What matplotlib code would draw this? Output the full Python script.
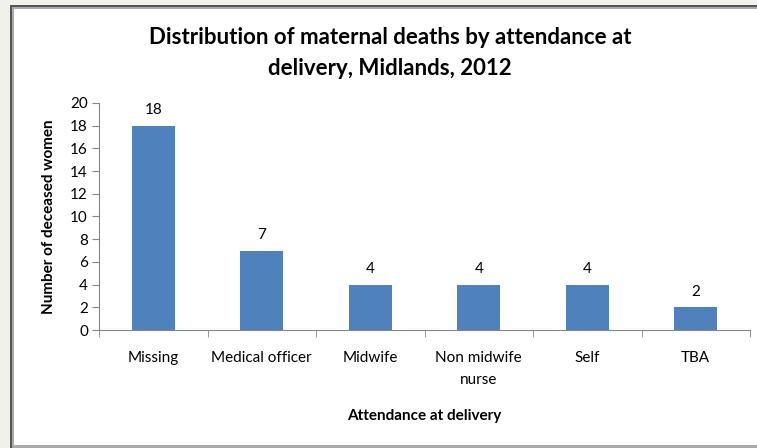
import matplotlib.pyplot as plt
from matplotlib.patches import Rectangle

# dados do gráfico
categorias = ['Missing', 'Medical officer', 'Midwife', 'Non midwife\nnurse', 'Self', 'TBA']
mortes = [18, 7, 4, 4, 4, 2]
yticks = list(range(0, 21, 2))

plt.rcParams['font.family'] = ['Lato', 'DejaVu Sans']

W, H = 757, 448
fig = plt.figure(figsize=(W / 100, H / 100), dpi=100)
fig.patch.set_facecolor('#f1f1ec')

# moldura branca do gráfico (estilo Excel)
fig.patches.append(Rectangle((10 / W, 0), 1, 1 - 5 / H, transform=fig.transFigure,
                             facecolor='#555555', edgecolor='none', zorder=-10))
fig.patches.append(Rectangle((12 / W, 0), 1, 1 - 7 / H, transform=fig.transFigure,
                             facecolor='#aaaaaa', edgecolor='none', zorder=-9))
fig.patches.append(Rectangle((14 / W, 3 / H), 1, 1 - 12 / H, transform=fig.transFigure,
                             facecolor='white', edgecolor='none', zorder=-8))

ax = fig.add_axes([99 / W, 1 - 330 / H, (750 - 99) / W, (330 - 103) / H])
ax.set_facecolor('none')

x = range(len(categorias))
barras = ax.bar(x, mortes, width=0.4, color='#4F81BD', zorder=2)
for xi, v in zip(x, mortes):
    ax.annotate(str(v), (xi, v), xytext=(0, 6), textcoords='offset points',
                ha='center', va='bottom', fontsize=11)

ax.set_xlim(-0.5, len(categorias) - 0.5)
ax.set_ylim(0, 20)
ax.set_yticks(yticks)
ax.set_xticks(list(x))
ax.set_xticklabels(categorias, fontsize=11, linespacing=1.75)
ax.set_xticks([i + 0.5 for i in range(-1, len(categorias))], minor=True)
ax.tick_params(axis='x', which='major', length=0, pad=15)
ax.tick_params(axis='x', which='minor', length=5, color='#868686', direction='out')
ax.tick_params(axis='y', length=5, color='#868686', labelsize=11, pad=3)

for lado in ['top', 'right']:
    ax.spines[lado].set_visible(False)
ax.spines['left'].set_color('#868686')
ax.spines['bottom'].set_color('#868686')

ax.set_ylabel('Number of deceased women', fontsize=11, fontweight='bold', labelpad=10)
ax.set_xlabel('Attendance at delivery', fontsize=11, fontweight='bold', labelpad=16)

fig.text(390 / W, 1 - 53 / H, 'Distribution of maternal deaths by attendance at\ndelivery, Midlands, 2012',
         ha='center', va='center', fontsize=16, fontweight='bold', linespacing=1.6)

fig.savefig('out.png', dpi=100)
